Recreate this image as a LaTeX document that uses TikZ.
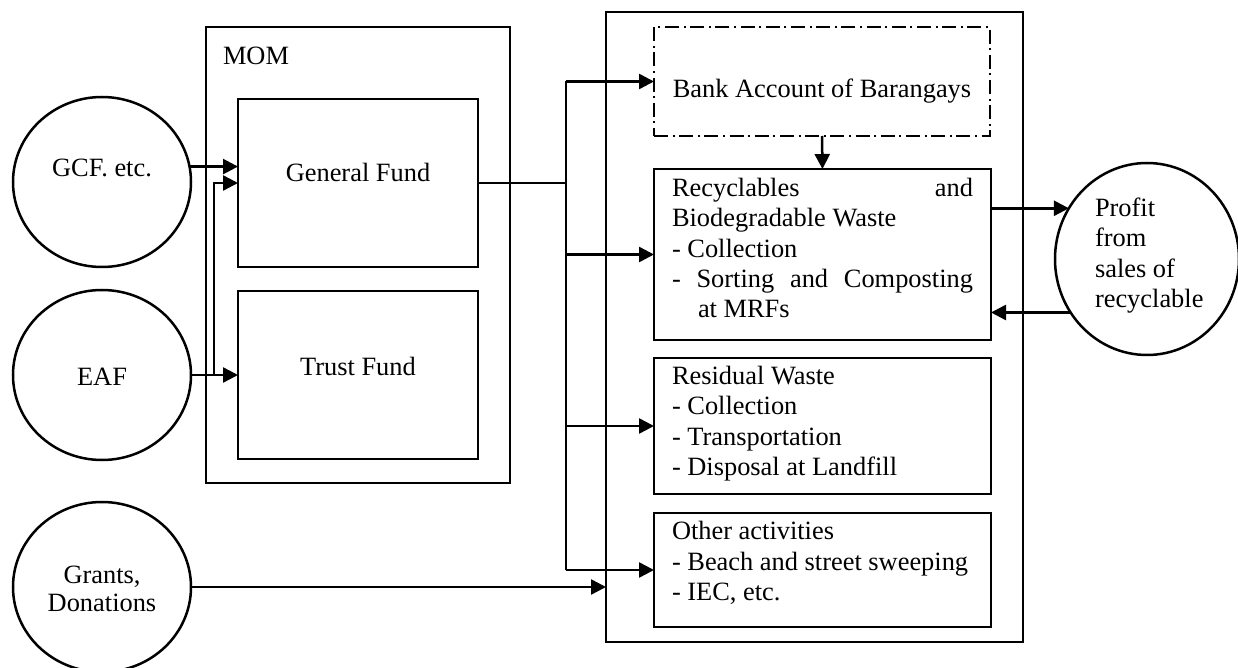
\documentclass[tikz,border=0pt]{standalone}
\usepackage{fontspec}
\setmainfont{Liberation Serif}
\usetikzlibrary{arrows.meta,shapes.geometric}
\begin{document}
\begin{tikzpicture}[x=0.5pt,y=-0.5pt,
  every node/.style={font=\fontsize{13.2}{15.2}\selectfont, inner sep=0pt, outer sep=0pt},
  line/.style={line width=1.25pt, draw=black},
  arr/.style={line, -{Triangle[length=7.5pt,width=7.5pt]}},
  fundbox/.style={line, rectangle, anchor=north west},
  source/.style={line, ellipse, minimum width=89pt, minimum height=85pt},
  bankbox/.style={rectangle, anchor=north west, draw, line width=1pt,
    dash pattern=on 7pt off 2.3pt on 1pt off 2.3pt},
  txt/.style={anchor=base west},
  ctxt/.style={anchor=base}]
\clip (0,0) rectangle (1238,668);
\useasboundingbox (0,0) rectangle (1238,668);

% funding sources
\node[source] (gcf) at (102,182) {};
\node[source] (eaf) at (102,375) {};
\node[source] (grants) at (102,587) {};
\node[ctxt] (gcft) at (102,177) {GCF. etc.};
\node[ctxt] (eaft) at (102,386) {EAF};
\node[ctxt] (grt1) at (102,583) {Grants,};
\node[ctxt] (grt2) at (102,611) {Donations};

% municipal funds
\node[fundbox, minimum width=152pt, minimum height=228pt] (mom) at (206,27) {};
\node[txt] (momt) at (223,65) {MOM};
\node[fundbox, minimum width=120pt, minimum height=84pt] (gf) at (238,99) {};
\node[ctxt] (gft) at (358,182) {General Fund};
\node[fundbox, minimum width=120pt, minimum height=84pt] (tf) at (238,291) {};
\node[ctxt] (tft) at (358,376) {Trust Fund};

% spending side
\node[fundbox, minimum width=208.5pt, minimum height=315pt] (big) at (606,12) {};
\node[bankbox, minimum width=168pt, minimum height=54.5pt] (bank) at (654,27) {};
\node[ctxt] (bankt) at (822,98) {Bank Account of Barangays};

\node[fundbox, minimum width=168.5pt, minimum height=85.5pt] (rec) at (654,169) {};
\node[txt] (rec1) at (672,197) {\makebox[150.5pt][s]{Recyclables and}};
\node[txt] (rec2) at (672,227) {Biodegradable Waste};
\node[txt] (rec3) at (672,258) {- Collection};
\node[txt] (rec4) at (672,288) {\makebox[150.5pt][s]{- Sorting and Composting}};
\node[txt] (rec5) at (698,318) {at MRFs};

\node[fundbox, minimum width=168.5pt, minimum height=68pt] (res) at (654,358) {};
\node[txt] (res1) at (672,385) {Residual Waste};
\node[txt] (res2) at (672,415) {- Collection};
\node[txt] (res3) at (672,445) {- Transportation};
\node[txt] (res4) at (672,475) {- Disposal at Landfill};

\node[fundbox, minimum width=168.5pt, minimum height=57pt] (oth) at (654,513) {};
\node[txt] (oth1) at (672,539) {Other activities};
\node[txt] (oth2) at (672,570) {- Beach and street sweeping};
\node[txt] (oth3) at (672,600) {- IEC, etc.};

% recycling revenue
\node[line, ellipse, minimum width=92pt, minimum height=96pt] (profit) at (1147,259) {};
\node[txt] (pr1) at (1095,217) {Profit};
\node[txt] (pr2) at (1095,247) {from};
\node[txt] (pr3) at (1095,278) {sales of};
\node[txt] (pr4) at (1095,308) {recyclable};

% connectors into the funds
\coordinate (split) at (214,0);
\coordinate (trunk) at (566,0);
\draw[arr] (gcf.10.4) -- (gcf.10.4 -| gf.west);
\draw[arr] (eaf.east) -- (eaf.east -| tf.west);
\draw[arr] (split |- eaf.east) |- (gf.west);

% distribution from the general fund
\draw[line] (gf.east) -- (trunk |- gf.east);
\draw[line] (trunk |- bank.west) -- (trunk |- oth.west);
\draw[arr] (trunk |- bank.west) -- (bank.west);
\draw[arr] (trunk |- rec.west) -- (rec.west);
\draw[arr] (trunk |- res.west) -- (res.west);
\draw[arr] (trunk |- oth.west) -- (oth.west);
\draw[arr] (grants.east) -- (grants.east -| big.west);
\draw[arr] (bank.south) -- (rec.north);

% recyclables loop
\draw[arr] (rec.east |- profit.147.5) -- (profit.147.5);
\draw[arr] (profit.215.4) -- (profit.215.4 -| rec.east);
\end{tikzpicture}
\end{document}
